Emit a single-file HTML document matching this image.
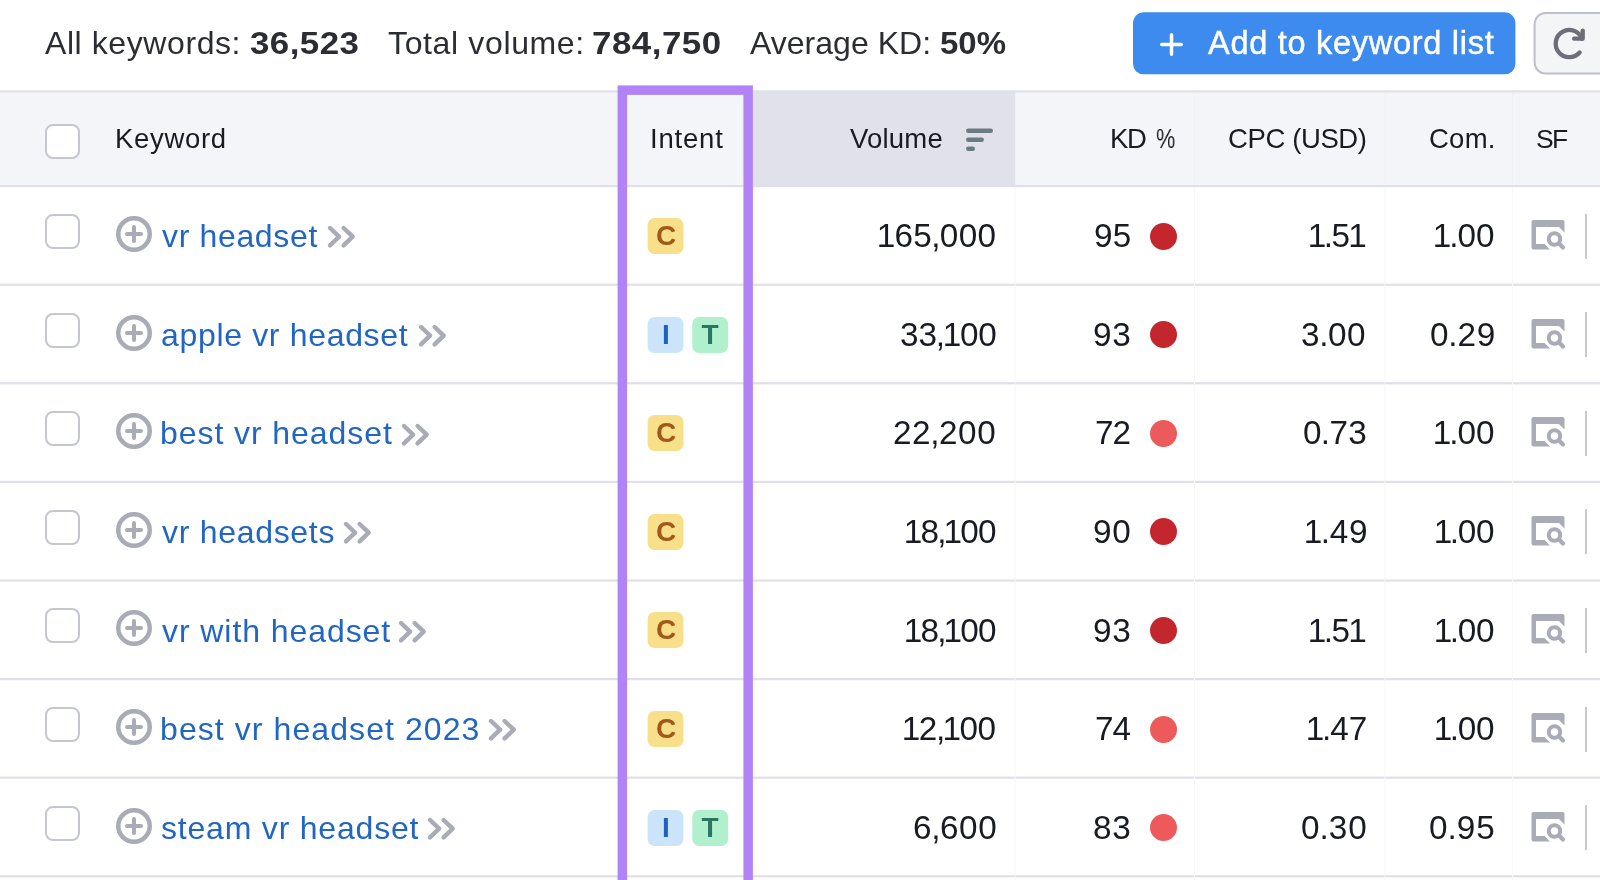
<!DOCTYPE html>
<html>
<head>
<meta charset="utf-8">
<title>Keywords</title>
<style>
*{box-sizing:border-box;margin:0;padding:0}
html,body{width:1600px;height:880px;overflow:hidden;background:#fff}
body{font-family:"Liberation Sans",sans-serif;color:#191b23;position:relative}
#root{position:absolute;left:0;top:0;width:1600px;height:880px;overflow:hidden;background:#fff}
.t{position:absolute;white-space:nowrap;line-height:40px;height:40px;will-change:transform}
.st{font-size:32px;color:#2b2d33}
.sb{font-size:32px;font-weight:700;color:#2b2d33;transform:scaleX(1.090);transform-origin:0 0}
.bt{font-size:32.500px;color:#fff;-webkit-text-stroke:0.450px #fff}
.th{font-size:27.500px;color:#191b23}
.kw{font-size:32px;color:#2266c4}
.num{font-size:33.300px;color:#191b23}
.one{margin:0 -1.200px}
.pt{margin:0 -1px}
.cb{position:absolute;left:45px;width:35px;height:35px;border:2px solid #c4c7cf;border-radius:8px;background:#fff}
.dot{position:absolute;left:1150px;width:27px;height:27px;border-radius:50%}
.d1{background:#c4262e}
.d2{background:#ed5a5c}
.tl{will-change:transform;position:absolute;width:36px;height:36px;font-size:28px;line-height:35.500px;font-weight:700;text-align:center}
.tc{color:#a2571b}
.ti{color:#2062c0}
.tt{color:#2c7560}
.bar{position:absolute;left:1585px;width:2px;height:45px;background:#c6c9d2}
svg{position:absolute;overflow:visible}
</style>
</head>
<body>
<div id="root">

<div id="s1a" class="t st" style="left:44.90px;top:22.66px;letter-spacing:0.583px;">All keywords:</div>
<div id="s1b" class="t sb" style="left:250.00px;top:22.66px;letter-spacing:0.400px;">36,523</div>
<div id="s2a" class="t st" style="left:387.60px;top:22.66px;letter-spacing:0.639px;">Total volume:</div>
<div id="s2b" class="t sb" style="left:592.40px;top:22.66px;letter-spacing:0.464px;">784,750</div>
<div id="s3a" class="t st" style="left:749.60px;top:22.66px;letter-spacing:0.020px;">Average KD:</div>
<div id="s3b" class="t sb" style="left:940.00px;top:22.66px;letter-spacing:0.000px;transform:scaleX(1.030);">50%</div>
<svg style="left:0;top:0" width="1600" height="90" viewBox="0 0 1600 90"><rect x="1133" y="12.300" width="382.400" height="62" rx="10.500" fill="#3e8bef"/><rect x="1534.600" y="13.100" width="90" height="60.400" rx="11" fill="#f4f5f7" stroke="#bdc0ca" stroke-width="2"/></svg>
<svg style="left:1159.500px;top:32.500px" width="23" height="23" viewBox="0 0 23 23"><path d="M11.500 1.700v19.600M1.700 11.500h19.600" stroke="#fff" stroke-width="3.500" stroke-linecap="round" fill="none"/></svg>
<div id="bt" class="t bt" style="left:1208.00px;top:22.73px;letter-spacing:0.722px;">Add to keyword list</div>
<svg style="left:1550px;top:24px" width="40" height="40" viewBox="0 0 40 40"><g stroke="#6c6e79" stroke-width="4.300" fill="none" stroke-linecap="round" stroke-linejoin="round"><path d="M32 14.700A13.600 13.600 0 1 0 29.600 28.500"/><path d="M32.700 6.600v8.100h-8.600"/></g></svg>
<svg style="left:0;top:0" width="1600" height="880" viewBox="0 0 1600 880"><rect x="0" y="91" width="1600" height="95.500" fill="#f4f5f9"/><rect x="753" y="91" width="262.200" height="95.500" fill="#e0e1e9"/><rect x="0" y="90.300" width="1600" height="2.200" fill="#dfe0e8"/><rect x="0" y="185.00" width="1600" height="2.200" fill="#dfe0e8"/><rect x="0" y="283.60" width="1600" height="2.200" fill="#dfe0e8"/><rect x="0" y="382.20" width="1600" height="2.200" fill="#dfe0e8"/><rect x="0" y="480.80" width="1600" height="2.200" fill="#dfe0e8"/><rect x="0" y="579.40" width="1600" height="2.200" fill="#dfe0e8"/><rect x="0" y="678.00" width="1600" height="2.200" fill="#dfe0e8"/><rect x="0" y="776.60" width="1600" height="2.200" fill="#dfe0e8"/><rect x="0" y="875.20" width="1600" height="2.200" fill="#dfe0e8"/><rect x="1014.5" y="187.200" width="1" height="693" fill="#f8f8fb"/><rect x="1194.0" y="187.200" width="1" height="693" fill="#f8f8fb"/><rect x="1194.0" y="92.500" width="1" height="92.500" fill="#eff0f5"/><rect x="1384.5" y="187.200" width="1" height="693" fill="#f8f8fb"/><rect x="1384.5" y="92.500" width="1" height="92.500" fill="#eff0f5"/><rect x="1512.0" y="187.200" width="1" height="693" fill="#f8f8fb"/><rect x="1512.0" y="92.500" width="1" height="92.500" fill="#eff0f5"/></svg>
<div class="cb" style="top:124px;left:44.500px"></div>
<div id="h1" class="t th" style="left:114.90px;top:118.77px;letter-spacing:0.667px;">Keyword</div>
<div id="h2" class="t th" style="left:649.50px;top:118.77px;letter-spacing:0.800px;">Intent</div>
<div id="h3" class="t th" style="left:849.90px;top:118.77px;letter-spacing:0.200px;">Volume</div>
<svg style="left:963px;top:126px" width="34" height="28" viewBox="0 0 34 28"><g stroke="#6c7a82" stroke-width="4.400" stroke-linecap="round" fill="none"><path d="M5.200 4.800h22.600"/><path d="M5.200 13.700h13.500"/><path d="M5.200 22.700h4.600"/></g></svg>
<div id="h4" class="t th" style="left:1110.00px;top:118.77px;letter-spacing:-1.400px;">KD</div>
<div id="h4b" class="t th" style="left:1155.90px;top:118.77px;letter-spacing:0.000px;transform:scaleX(0.79);transform-origin:0 0;">%</div>
<div id="h5" class="t th" style="left:1228.00px;top:118.77px;letter-spacing:-0.385px;">CPC (USD)</div>
<div id="h6" class="t th" style="left:1429.00px;top:118.77px;letter-spacing:0.264px;">Com.</div>
<div id="h7" class="t th" style="left:1536.40px;top:119.11px;letter-spacing:-1.600px;font-size:26.5px;">SF</div>
<!-- row 1 -->
<div class="cb" style="top:214px"></div>
<svg style="left:116px;top:216px" width="36" height="36" viewBox="0 0 36 36"><circle cx="18" cy="18" r="15.750" stroke="#a9abb6" stroke-width="4.500" fill="none"/><path d="M18 11v14M11 18h14" stroke="#a9abb6" stroke-width="4" stroke-linecap="round" fill="none"/></svg>
<div id="k0" class="t kw" style="left:162.00px;top:216.21px;letter-spacing:0.651px;">vr headset</div>
<svg style="left:328px;top:225.4px" width="28" height="24" viewBox="0 0 28 24"><path d="M2 3l9.100 8.700l-9.100 8.700M15.600 3l9.100 8.700l-9.100 8.700" stroke="#a9abb6" stroke-width="4.400" fill="none" stroke-linecap="round" stroke-linejoin="round"/></svg>
<svg style="left:647px;top:218px" width="37" height="37" viewBox="0 0 37 37"><rect x="0.600" y="0.100" width="35.800" height="36" rx="6.800" fill="#f8e08b"/></svg>
<div class="tl tc" style="left:648px;top:218px">C</div>
<div id="v0" class="t num" style="left:878.00px;top:216.15px;letter-spacing:0.334px;"><span class="one">1</span>65<span class="pt">,</span>000</div>
<div id="d0" class="t num" style="left:1094.20px;top:216.15px;letter-spacing:0.200px;">95</div>
<div class="dot d1" style="top:222.6px"></div>
<div id="c0" class="t num" style="left:1308.70px;top:216.15px;letter-spacing:-0.500px;"><span class="one">1</span><span class="pt">.</span>5<span class="one">1</span></div>
<div id="m0" class="t num" style="left:1434.00px;top:216.15px;letter-spacing:0.001px;"><span class="one">1</span><span class="pt">.</span>00</div>
<svg style="left:1531px;top:220px" width="36" height="32" viewBox="0 0 36 32"><path d="M2.500 0h29a2 2 0 0 1 2 2v10.500l-5.500-5.500h-23v17h8.500l5.500 5.500h-16.500a2 2 0 0 1-2-2v-25.500a2 2 0 0 1 2-2z" fill="#a9abb6"/><circle cx="23.500" cy="19" r="5.700" stroke="#a9abb6" stroke-width="4" fill="none"/><path d="M27.800 23.300l4.200 4.200" stroke="#a9abb6" stroke-width="4.200" stroke-linecap="round"/></svg>
<div class="bar" style="top:213.5px"></div>
<!-- row 2 -->
<div class="cb" style="top:312.6px"></div>
<svg style="left:116px;top:314.6px" width="36" height="36" viewBox="0 0 36 36"><circle cx="18" cy="18" r="15.750" stroke="#a9abb6" stroke-width="4.500" fill="none"/><path d="M18 11v14M11 18h14" stroke="#a9abb6" stroke-width="4" stroke-linecap="round" fill="none"/></svg>
<div id="k1" class="t kw" style="left:161.00px;top:314.81px;letter-spacing:0.667px;">apple vr headset</div>
<svg style="left:418.75px;top:324px" width="28" height="24" viewBox="0 0 28 24"><path d="M2 3l9.100 8.700l-9.100 8.700M15.600 3l9.100 8.700l-9.100 8.700" stroke="#a9abb6" stroke-width="4.400" fill="none" stroke-linecap="round" stroke-linejoin="round"/></svg>
<svg style="left:647px;top:316.6px" width="82" height="37" viewBox="0 0 82 37"><rect x="0.600" y="0.100" width="35.800" height="36" rx="6.800" fill="#cce4fa"/><rect x="45.300" y="0.100" width="35.800" height="36" rx="6.800" fill="#b0f0cd"/></svg>
<div class="tl ti" style="left:648px;top:316.6px">I</div><div class="tl tt" style="left:692px;top:316.6px">T</div>
<div id="v1" class="t num" style="left:899.60px;top:314.75px;letter-spacing:-0.120px;">33<span class="pt">,</span><span class="one">1</span>00</div>
<div id="d1" class="t num" style="left:1093.20px;top:314.75px;letter-spacing:0.800px;">93</div>
<div class="dot d1" style="top:321.2px"></div>
<div id="c1" class="t num" style="left:1301.40px;top:314.75px;letter-spacing:0.604px;">3<span class="pt">.</span>00</div>
<div id="m1" class="t num" style="left:1429.60px;top:314.75px;letter-spacing:0.805px;">0<span class="pt">.</span>29</div>
<svg style="left:1531px;top:318.6px" width="36" height="32" viewBox="0 0 36 32"><path d="M2.500 0h29a2 2 0 0 1 2 2v10.500l-5.500-5.500h-23v17h8.500l5.500 5.500h-16.500a2 2 0 0 1-2-2v-25.500a2 2 0 0 1 2-2z" fill="#a9abb6"/><circle cx="23.500" cy="19" r="5.700" stroke="#a9abb6" stroke-width="4" fill="none"/><path d="M27.800 23.300l4.200 4.200" stroke="#a9abb6" stroke-width="4.200" stroke-linecap="round"/></svg>
<div class="bar" style="top:312.1px"></div>
<!-- row 3 -->
<div class="cb" style="top:411.2px"></div>
<svg style="left:116px;top:413.2px" width="36" height="36" viewBox="0 0 36 36"><circle cx="18" cy="18" r="15.750" stroke="#a9abb6" stroke-width="4.500" fill="none"/><path d="M18 11v14M11 18h14" stroke="#a9abb6" stroke-width="4" stroke-linecap="round" fill="none"/></svg>
<div id="k2" class="t kw" style="left:160.00px;top:413.41px;letter-spacing:0.929px;">best vr headset</div>
<svg style="left:402px;top:422.6px" width="28" height="24" viewBox="0 0 28 24"><path d="M2 3l9.100 8.700l-9.100 8.700M15.600 3l9.100 8.700l-9.100 8.700" stroke="#a9abb6" stroke-width="4.400" fill="none" stroke-linecap="round" stroke-linejoin="round"/></svg>
<svg style="left:647px;top:415.2px" width="37" height="37" viewBox="0 0 37 37"><rect x="0.600" y="0.100" width="35.800" height="36" rx="6.800" fill="#f8e08b"/></svg>
<div class="tl tc" style="left:648px;top:415.2px">C</div>
<div id="v2" class="t num" style="left:893.20px;top:413.35px;letter-spacing:0.560px;">22<span class="pt">,</span>200</div>
<div id="d2" class="t num" style="left:1095.00px;top:413.35px;letter-spacing:-1.000px;">72</div>
<div class="dot d2" style="top:419.8px"></div>
<div id="c2" class="t num" style="left:1303.20px;top:413.35px;letter-spacing:0.333px;">0<span class="pt">.</span>73</div>
<div id="m2" class="t num" style="left:1434.00px;top:413.35px;letter-spacing:0.001px;"><span class="one">1</span><span class="pt">.</span>00</div>
<svg style="left:1531px;top:417.2px" width="36" height="32" viewBox="0 0 36 32"><path d="M2.500 0h29a2 2 0 0 1 2 2v10.500l-5.500-5.500h-23v17h8.500l5.500 5.500h-16.500a2 2 0 0 1-2-2v-25.500a2 2 0 0 1 2-2z" fill="#a9abb6"/><circle cx="23.500" cy="19" r="5.700" stroke="#a9abb6" stroke-width="4" fill="none"/><path d="M27.800 23.300l4.200 4.200" stroke="#a9abb6" stroke-width="4.200" stroke-linecap="round"/></svg>
<div class="bar" style="top:410.7px"></div>
<!-- row 4 -->
<div class="cb" style="top:509.8px"></div>
<svg style="left:116px;top:511.8px" width="36" height="36" viewBox="0 0 36 36"><circle cx="18" cy="18" r="15.750" stroke="#a9abb6" stroke-width="4.500" fill="none"/><path d="M18 11v14M11 18h14" stroke="#a9abb6" stroke-width="4" stroke-linecap="round" fill="none"/></svg>
<div id="k3" class="t kw" style="left:162.00px;top:512.01px;letter-spacing:0.700px;">vr headsets</div>
<svg style="left:343.75px;top:521.2px" width="28" height="24" viewBox="0 0 28 24"><path d="M2 3l9.100 8.700l-9.100 8.700M15.600 3l9.100 8.700l-9.100 8.700" stroke="#a9abb6" stroke-width="4.400" fill="none" stroke-linecap="round" stroke-linejoin="round"/></svg>
<svg style="left:647px;top:513.8px" width="37" height="37" viewBox="0 0 37 37"><rect x="0.600" y="0.100" width="35.800" height="36" rx="6.800" fill="#f8e08b"/></svg>
<div class="tl tc" style="left:648px;top:513.8px">C</div>
<div id="v3" class="t num" style="left:904.60px;top:511.95px;letter-spacing:-0.720px;"><span class="one">1</span>8<span class="pt">,</span><span class="one">1</span>00</div>
<div id="d3" class="t num" style="left:1093.40px;top:511.95px;letter-spacing:0.800px;">90</div>
<div class="dot d1" style="top:518.4px"></div>
<div id="c3" class="t num" style="left:1305.00px;top:511.95px;letter-spacing:0.700px;"><span class="one">1</span><span class="pt">.</span>49</div>
<div id="m3" class="t num" style="left:1435.00px;top:511.95px;letter-spacing:-0.334px;"><span class="one">1</span><span class="pt">.</span>00</div>
<svg style="left:1531px;top:515.8px" width="36" height="32" viewBox="0 0 36 32"><path d="M2.500 0h29a2 2 0 0 1 2 2v10.500l-5.500-5.500h-23v17h8.500l5.500 5.500h-16.500a2 2 0 0 1-2-2v-25.500a2 2 0 0 1 2-2z" fill="#a9abb6"/><circle cx="23.500" cy="19" r="5.700" stroke="#a9abb6" stroke-width="4" fill="none"/><path d="M27.800 23.300l4.200 4.200" stroke="#a9abb6" stroke-width="4.200" stroke-linecap="round"/></svg>
<div class="bar" style="top:509.3px"></div>
<!-- row 5 -->
<div class="cb" style="top:608.4px"></div>
<svg style="left:116px;top:610.4px" width="36" height="36" viewBox="0 0 36 36"><circle cx="18" cy="18" r="15.750" stroke="#a9abb6" stroke-width="4.500" fill="none"/><path d="M18 11v14M11 18h14" stroke="#a9abb6" stroke-width="4" stroke-linecap="round" fill="none"/></svg>
<div id="k4" class="t kw" style="left:162.00px;top:610.61px;letter-spacing:0.929px;">vr with headset</div>
<svg style="left:399.3px;top:619.8px" width="28" height="24" viewBox="0 0 28 24"><path d="M2 3l9.100 8.700l-9.100 8.700M15.600 3l9.100 8.700l-9.100 8.700" stroke="#a9abb6" stroke-width="4.400" fill="none" stroke-linecap="round" stroke-linejoin="round"/></svg>
<svg style="left:647px;top:612.4px" width="37" height="37" viewBox="0 0 37 37"><rect x="0.600" y="0.100" width="35.800" height="36" rx="6.800" fill="#f8e08b"/></svg>
<div class="tl tc" style="left:648px;top:612.4px">C</div>
<div id="v4" class="t num" style="left:904.60px;top:610.55px;letter-spacing:-0.720px;"><span class="one">1</span>8<span class="pt">,</span><span class="one">1</span>00</div>
<div id="d4" class="t num" style="left:1093.20px;top:610.55px;letter-spacing:0.800px;">93</div>
<div class="dot d1" style="top:617px"></div>
<div id="c4" class="t num" style="left:1308.50px;top:610.55px;letter-spacing:-0.500px;"><span class="one">1</span><span class="pt">.</span>5<span class="one">1</span></div>
<div id="m4" class="t num" style="left:1435.00px;top:610.55px;letter-spacing:-0.334px;"><span class="one">1</span><span class="pt">.</span>00</div>
<svg style="left:1531px;top:614.4px" width="36" height="32" viewBox="0 0 36 32"><path d="M2.500 0h29a2 2 0 0 1 2 2v10.500l-5.500-5.500h-23v17h8.500l5.500 5.500h-16.500a2 2 0 0 1-2-2v-25.500a2 2 0 0 1 2-2z" fill="#a9abb6"/><circle cx="23.500" cy="19" r="5.700" stroke="#a9abb6" stroke-width="4" fill="none"/><path d="M27.800 23.300l4.200 4.200" stroke="#a9abb6" stroke-width="4.200" stroke-linecap="round"/></svg>
<div class="bar" style="top:607.9px"></div>
<!-- row 6 -->
<div class="cb" style="top:707px"></div>
<svg style="left:116px;top:709px" width="36" height="36" viewBox="0 0 36 36"><circle cx="18" cy="18" r="15.750" stroke="#a9abb6" stroke-width="4.500" fill="none"/><path d="M18 11v14M11 18h14" stroke="#a9abb6" stroke-width="4" stroke-linecap="round" fill="none"/></svg>
<div id="k5" class="t kw" style="left:160.00px;top:709.21px;letter-spacing:1.080px;">best vr headset 2023</div>
<svg style="left:488.9px;top:718.4px" width="28" height="24" viewBox="0 0 28 24"><path d="M2 3l9.100 8.700l-9.100 8.700M15.600 3l9.100 8.700l-9.100 8.700" stroke="#a9abb6" stroke-width="4.400" fill="none" stroke-linecap="round" stroke-linejoin="round"/></svg>
<svg style="left:647px;top:711px" width="37" height="37" viewBox="0 0 37 37"><rect x="0.600" y="0.100" width="35.800" height="36" rx="6.800" fill="#f8e08b"/></svg>
<div class="tl tc" style="left:648px;top:711px">C</div>
<div id="v5" class="t num" style="left:903.00px;top:709.15px;letter-spacing:-0.400px;"><span class="one">1</span>2<span class="pt">,</span><span class="one">1</span>00</div>
<div id="d5" class="t num" style="left:1095.20px;top:709.15px;letter-spacing:-1.000px;">74</div>
<div class="dot d2" style="top:715.6px"></div>
<div id="c5" class="t num" style="left:1307.20px;top:709.15px;letter-spacing:-0.064px;"><span class="one">1</span><span class="pt">.</span>47</div>
<div id="m5" class="t num" style="left:1435.00px;top:709.15px;letter-spacing:-0.334px;"><span class="one">1</span><span class="pt">.</span>00</div>
<svg style="left:1531px;top:713px" width="36" height="32" viewBox="0 0 36 32"><path d="M2.500 0h29a2 2 0 0 1 2 2v10.500l-5.500-5.500h-23v17h8.500l5.500 5.500h-16.500a2 2 0 0 1-2-2v-25.500a2 2 0 0 1 2-2z" fill="#a9abb6"/><circle cx="23.500" cy="19" r="5.700" stroke="#a9abb6" stroke-width="4" fill="none"/><path d="M27.800 23.300l4.200 4.200" stroke="#a9abb6" stroke-width="4.200" stroke-linecap="round"/></svg>
<div class="bar" style="top:706.5px"></div>
<!-- row 7 -->
<div class="cb" style="top:805.6px"></div>
<svg style="left:116px;top:807.6px" width="36" height="36" viewBox="0 0 36 36"><circle cx="18" cy="18" r="15.750" stroke="#a9abb6" stroke-width="4.500" fill="none"/><path d="M18 11v14M11 18h14" stroke="#a9abb6" stroke-width="4" stroke-linecap="round" fill="none"/></svg>
<div id="k6" class="t kw" style="left:161.00px;top:807.81px;letter-spacing:0.800px;">steam vr headset</div>
<svg style="left:428px;top:817px" width="28" height="24" viewBox="0 0 28 24"><path d="M2 3l9.100 8.700l-9.100 8.700M15.600 3l9.100 8.700l-9.100 8.700" stroke="#a9abb6" stroke-width="4.400" fill="none" stroke-linecap="round" stroke-linejoin="round"/></svg>
<svg style="left:647px;top:809.6px" width="82" height="37" viewBox="0 0 82 37"><rect x="0.600" y="0.100" width="35.800" height="36" rx="6.800" fill="#cce4fa"/><rect x="45.300" y="0.100" width="35.800" height="36" rx="6.800" fill="#b0f0cd"/></svg>
<div class="tl ti" style="left:648px;top:809.6px">I</div><div class="tl tt" style="left:692px;top:809.6px">T</div>
<div id="v6" class="t num" style="left:912.60px;top:807.75px;letter-spacing:0.600px;">6<span class="pt">,</span>600</div>
<div id="d6" class="t num" style="left:1093.40px;top:807.75px;letter-spacing:0.800px;">83</div>
<div class="dot d2" style="top:814.2px"></div>
<div id="c6" class="t num" style="left:1301.00px;top:807.75px;letter-spacing:1.000px;">0<span class="pt">.</span>30</div>
<div id="m6" class="t num" style="left:1429.00px;top:807.75px;letter-spacing:1.000px;">0<span class="pt">.</span>95</div>
<svg style="left:1531px;top:811.6px" width="36" height="32" viewBox="0 0 36 32"><path d="M2.500 0h29a2 2 0 0 1 2 2v10.500l-5.500-5.500h-23v17h8.500l5.500 5.500h-16.500a2 2 0 0 1-2-2v-25.500a2 2 0 0 1 2-2z" fill="#a9abb6"/><circle cx="23.500" cy="19" r="5.700" stroke="#a9abb6" stroke-width="4" fill="none"/><path d="M27.800 23.300l4.200 4.200" stroke="#a9abb6" stroke-width="4.200" stroke-linecap="round"/></svg>
<div class="bar" style="top:805.1px"></div>
<svg style="left:0;top:0" width="1600" height="880" viewBox="0 0 1600 880"><rect x="622.350" y="90.150" width="125.800" height="830" fill="none" stroke="#b283f7" stroke-width="9.500"/></svg>
</div>
</body>
</html>
